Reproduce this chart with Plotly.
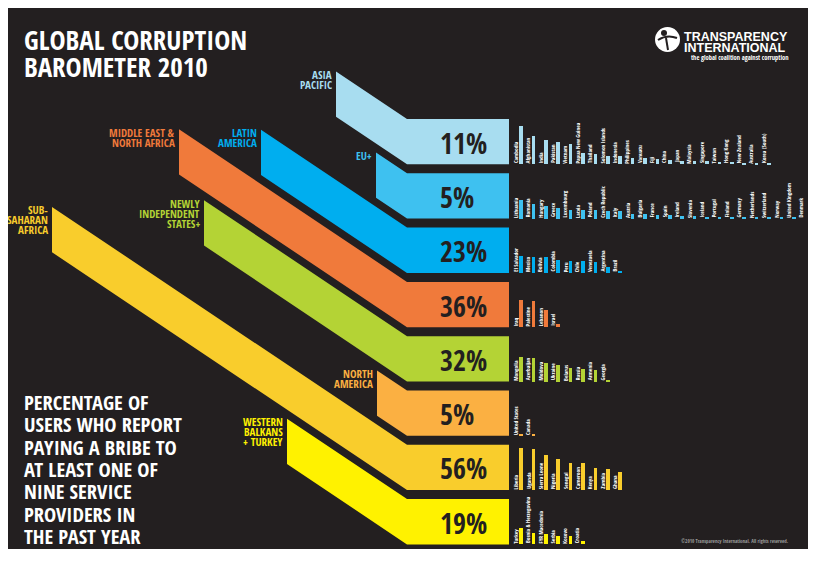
import plotly.graph_objects as go

# page body has an 8px margin: plot drawn at 8..812 x 8..561, ranges in reference pixels
OFF = 8
FIG_W, FIG_H = 804, 553
BG = "#231f20"
NARROW = "Open Sans Condensed, Roboto Condensed, DejaVu Sans Condensed, sans-serif"
SANS = "Liberation Sans, Arial, sans-serif"

# ---------------- data ----------------
REGION_LINES = [["ASIA", "PACIFIC"], ["EU+"], ["LATIN", "AMERICA"],
                ["MIDDLE EAST &", "NORTH AFRICA"], ["NEWLY", "INDEPENDENT", "STATES+"],
                ["NORTH", "AMERICA"], ["SUB-", "SAHARAN", "AFRICA"],
                ["WESTERN", "BALKANS", "+ TURKEY"]]
REGION_PCT = [11, 5, 23, 36, 32, 5, 56, 19]

asia_countries = ["Cambodia", "Afghanistan", "India", "Pakistan", "Vietnam", "Papua New Guinea",
                  "Thailand", "Solomon Islands", "Indonesia", "Philippines", "Vanuatu", "Fiji",
                  "China", "Japan", "Malaysia", "Singapore", "Taiwan", "Hong Kong",
                  "New Zealand", "Australia", "Korea (South)"]
asia_values = [85, 62, 54, 49, 45, 26, 23, 19, 18, 15, 15, 11, 9, 8, 7, 7, 6, 5, 3, 2, 1]

eu_countries = ["Lithuania", "Romania", "Hungary", "Greece", "Luxembourg", "Latvia", "Poland",
                "Czech Republic", "Italy", "Austria", "Bulgaria", "France", "Spain", "Ireland",
                "Slovenia", "Iceland", "Portugal", "Finland", "Germany", "Netherlands",
                "Switzerland", "Norway", "United Kingdom", "Denmark"]
eu_values = [40, 33, 28, 23, 18, 18, 18, 17, 17, 11, 10, 8, 8, 6, 6, 4, 4, 4, 4, 4, 4, 3, 3, 0]

la_countries = ["El Salvador", "Mexico", "Bolivia", "Colombia", "Peru", "Chile", "Venezuela",
                "Argentina", "Brazil"]
la_values = [37, 35, 35, 28, 26, 26, 24, 13, 4]

mena_countries = ["Iraq", "Palestine", "Lebanon", "Israel"]
mena_values = [61, 57, 39, 7]

nis_countries = ["Mongolia", "Azerbaijan", "Moldova", "Ukraine", "Belarus", "Russia",
                 "Armenia", "Georgia"]
nis_values = [53, 51, 40, 37, 29, 28, 25, 3]

na_countries = ["United States", "Canada"]
na_values = [5, 5]

ssa_countries = ["Liberia", "Uganda", "Sierra Leone", "Nigeria", "Senegal", "Cameroon",
                 "Kenya", "Zambia", "Ghana"]
ssa_values = [93, 90, 77, 68, 60, 59, 49, 46, 40]

wb_countries = ["Turkey", "Bosnia & Herzegovina", "FYR Macedonia", "Serbia", "Kosovo", "Croatia"]
wb_values = [37, 26, 24, 19, 19, 7]

COUNTRIES = [asia_countries, eu_countries, la_countries, mena_countries,
             nis_countries, na_countries, ssa_countries, wb_countries]
VALUES = [asia_values, eu_values, la_values, mena_values,
          nis_values, na_values, ssa_values, wb_values]

# ---------------- styling / layout params ----------------
COLORS = ["#a8ddf0", "#3ec1f0", "#00aeef", "#f07a3b", "#b4d335", "#fbb042", "#f9cd2c", "#fff200"]
RIBBON_LEFT = [336, 376, 261, 179, 204, 377, 52, 287]
ROW_TOP0, ROW_H, ROW_PITCH = 119.0, 45.3, 54.3
RECT_X0, RECT_X1 = 407, 509
SLOPE = 0.67
BAR_X0, BAR_PITCH, BAR_W = 521, 12.4, 3.6

fig = go.Figure()
shapes = []
ann = []

shapes.append(dict(type="rect", x0=5, x1=812, y0=7, y1=549, fillcolor=BG,
                   line_width=0, layer="below"))

for i, (lines, pct, col, L) in enumerate(zip(REGION_LINES, REGION_PCT, COLORS, RIBBON_LEFT)):
    top = ROW_TOP0 + i * ROW_PITCH
    bot = top + ROW_H
    dy = SLOPE * (RECT_X0 - L)
    path = (f"M {L},{top - dy} L {RECT_X0},{top} L {RECT_X1},{top} L {RECT_X1},{bot} "
            f"L {RECT_X0},{bot} L {L},{bot - dy} Z")
    shapes.append(dict(type="path", path=path, fillcolor=col, line_width=0, layer="below"))
    for k, t in enumerate(lines):
        ann.append(dict(x=L - 3, y=top - dy + 3 + k * 10, text=t, xanchor="right",
                        yanchor="middle", showarrow=False, borderpad=0,
                        font=dict(family=NARROW, size=11, color=col, weight="bold")))
    ann.append(dict(x=439, y=top + ROW_H / 2 + 1, text=f"{pct}%", xanchor="left",
                    yanchor="middle", showarrow=False, borderpad=0,
                    font=dict(family=NARROW, size=28, color=BG, weight="bold")))
    xs = [BAR_X0 + j * BAR_PITCH for j in range(len(VALUES[i]))]
    fig.add_trace(go.Bar(x=xs, y=[-v * ROW_H / 100 for v in VALUES[i]], base=bot,
                         width=BAR_W, marker=dict(color=col, line_width=0),
                         hovertext=COUNTRIES[i], showlegend=False))
    for x, name in zip(xs, COUNTRIES[i]):
        ann.append(dict(x=x - 5.2, y=bot, text=name, textangle=-90, xanchor="center",
                        yanchor="bottom", showarrow=False, borderpad=0,
                        font=dict(family=NARROW, size=5.5, color="white", weight="bold")))

for k, t in enumerate(["GLOBAL CORRUPTION", "BAROMETER 2010"]):
    ann.append(dict(x=23, y=39.5 + k * 27, text=t, xanchor="left", yanchor="middle",
                    showarrow=False, borderpad=0,
                    font=dict(family=NARROW, size=27, color="white", weight="bold")))

DESC = ["PERCENTAGE OF", "USERS WHO REPORT", "PAYING A BRIBE TO", "AT LEAST ONE OF",
        "NINE SERVICE", "PROVIDERS IN", "THE PAST YEAR"]
for k, t in enumerate(DESC):
    ann.append(dict(x=23, y=402 + k * 22.3, text=t, xanchor="left", yanchor="middle",
                    showarrow=False, borderpad=0,
                    font=dict(family=NARROW, size=20.5, color="white", weight="bold")))

# logo
shapes.append(dict(type="circle", x0=655, x1=680, y0=27, y1=52, fillcolor="white",
                   line_width=0))
shapes.append(dict(type="circle", x0=661, x1=667, y0=30, y1=36, fillcolor=BG, line_width=0))
shapes.append(dict(type="path", path="M 658,40 Q 667,34 677,38", line=dict(color=BG, width=2)))
shapes.append(dict(type="path", path="M 666,38 L 668,50", line=dict(color=BG, width=2)))
ann.append(dict(x=683, y=37, text="TRANSPARENCY", xanchor="left", yanchor="middle",
                showarrow=False, borderpad=0,
                font=dict(family=SANS, size=12.5, color="white", weight="bold")))
ann.append(dict(x=683, y=47.5, text="INTERNATIONAL", xanchor="left", yanchor="middle",
                showarrow=False, borderpad=0,
                font=dict(family=SANS, size=12.5, color="white", weight="bold")))
ann.append(dict(x=790, y=57.5, text="the global coalition against corruption", xanchor="right",
                yanchor="middle", showarrow=False, borderpad=0,
                font=dict(family=NARROW, size=6.5, color="white", weight="bold")))
ann.append(dict(x=790, y=541, text="©2010 Transparency International. All rights reserved.",
                xanchor="right", yanchor="middle", showarrow=False, borderpad=0,
                font=dict(family=NARROW, size=5, color="#9a9a9a")))

fig.update_layout(
    width=FIG_W, height=FIG_H, margin=dict(l=0, r=0, t=0, b=0),
    paper_bgcolor="white", plot_bgcolor="white",
    xaxis=dict(range=[OFF, OFF + FIG_W], visible=False, fixedrange=True),
    yaxis=dict(range=[OFF + FIG_H, OFF], visible=False, fixedrange=True),
    shapes=shapes, annotations=ann, barmode="overlay", bargap=0,
)
fig.write_html("out.html")
